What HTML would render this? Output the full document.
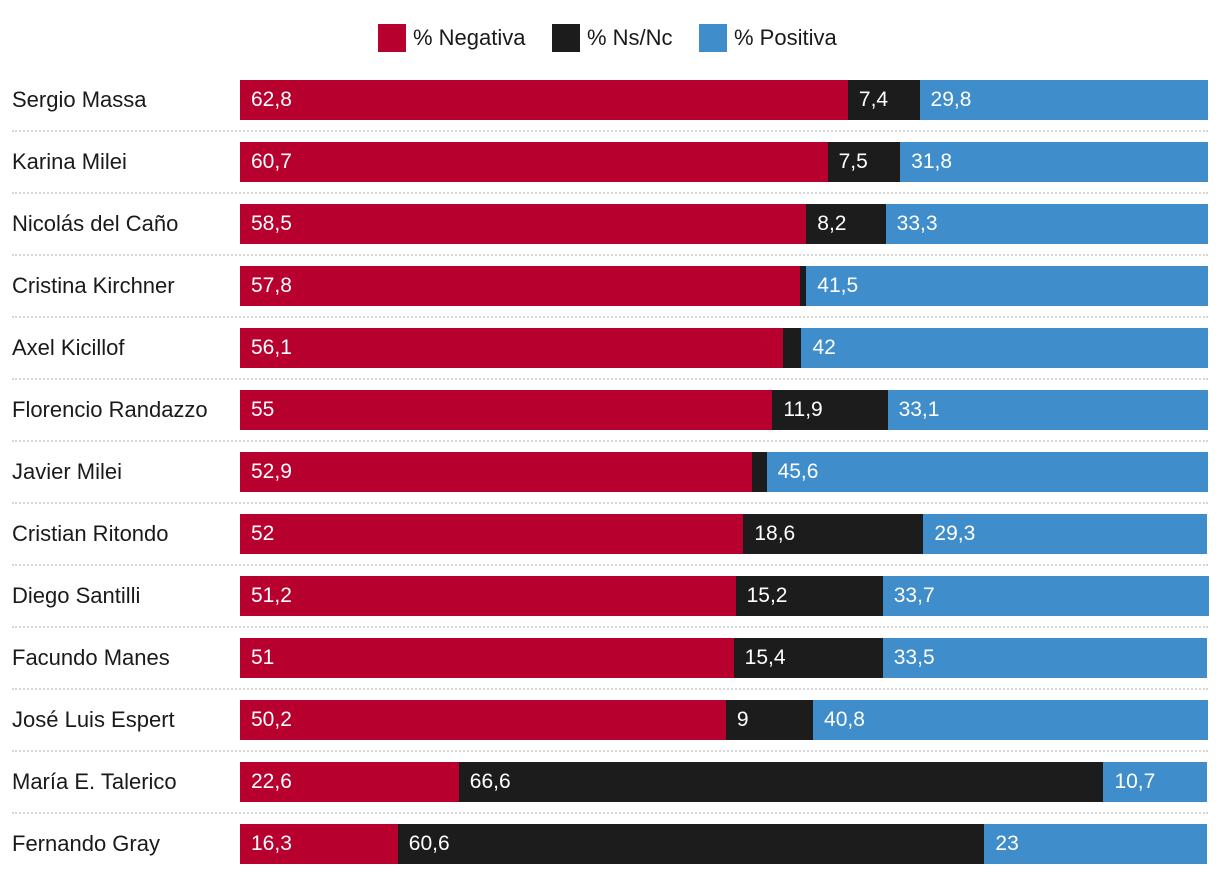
<!DOCTYPE html>
<html><head><meta charset="utf-8">
<style>
body{margin:0;width:1220px;height:884px;background:#fff;font-family:"Liberation Sans",sans-serif;overflow:hidden;position:relative}
.abs{position:absolute}
.lbl{position:absolute;left:12px;font-size:22px;color:#1a1a1a;line-height:40px;white-space:nowrap}
.seg{position:absolute;height:40px}
.val{position:absolute;font-size:21px;color:#fff;line-height:40px;white-space:nowrap}
.sep{position:absolute;left:12px;width:1196px;height:0;border-top:2px dotted #d6d6d6}
.leg{position:absolute;top:24px;height:28px;font-size:22px;line-height:28px;color:#1a1a1a}
.sq{position:absolute;top:24px;width:28px;height:28px}
</style></head><body>
<div class="sq" style="left:378px;background:#b8002f"></div>
<div class="leg" style="left:413px">% Negativa</div>
<div class="sq" style="left:552px;background:#1c1c1c"></div>
<div class="leg" style="left:587px">% Ns/Nc</div>
<div class="sq" style="left:699px;background:#3f8dca"></div>
<div class="leg" style="left:734px">% Positiva</div>
<div id="chart"></div>
<script>
const names=["Sergio Massa","Karina Milei","Nicolás del Caño","Cristina Kirchner","Axel Kicillof","Florencio Randazzo","Javier Milei","Cristian Ritondo","Diego Santilli","Facundo Manes","José Luis Espert","María E. Talerico","Fernando Gray"];
const negativa=[62.8,60.7,58.5,57.8,56.1,55,52.9,52,51.2,51,50.2,22.6,16.3];
const nsnc=[7.4,7.5,8.2,0.7,1.9,11.9,1.5,18.6,15.2,15.4,9,66.6,60.6];
const positiva=[29.8,31.8,33.3,41.5,42,33.1,45.6,29.3,33.7,33.5,40.8,10.7,23];
const x0=240, scale=9.68, top0=80, pitch=62, bh=40;
const x=v=>v*scale;
const fmt=v=>String(v).replace('.',',');
const c=document.getElementById('chart');
const colors=["#b8002f","#1c1c1c","#3f8dca"];
const keys=["negativa","nsnc","positiva"];
names.forEach((n,i)=>{
  const y=top0+i*pitch;
  const l=document.createElement('div');l.className='lbl';l.style.top=y+'px';l.textContent=n;
  
  
  c.appendChild(l);
  let cx=x0;
  [negativa[i],nsnc[i],positiva[i]].forEach((v,k)=>{
    const s=document.createElement('div');s.className='seg';
    s.style.left=cx+'px';s.style.top=y+'px';s.style.width=x(v)+'px';s.style.background=colors[k];
    
    
    c.appendChild(s);
    if(v>=5){
      const t=document.createElement('div');t.className='val';
      t.style.left=(cx+11)+'px';t.style.top=y+'px';t.textContent=fmt(v);
      
      
      c.appendChild(t);
    }
    cx+=x(v);
  });
  if(i<names.length-1){
    const d=document.createElement('div');d.className='sep';d.style.top=(y+bh+10)+'px';
    
    
    c.appendChild(d);
  }
});
</script>
</body></html>
